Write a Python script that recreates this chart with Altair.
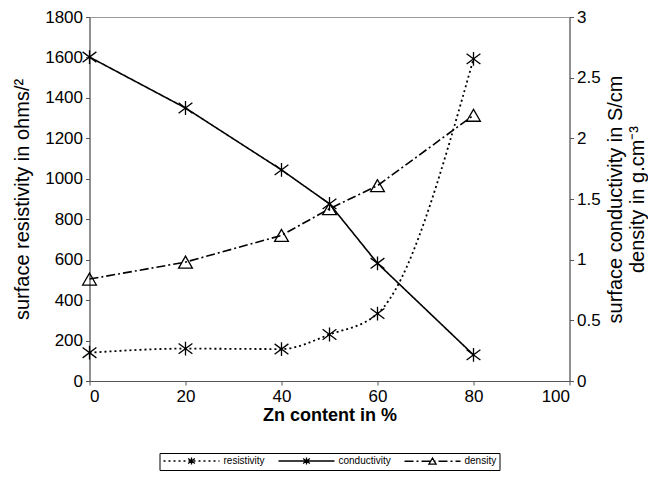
import altair as alt
import pandas as pd

zn = [0, 20, 40, 50, 60, 80]
resistivity = [140, 160, 158, 230, 333, 1593]
conductivity = [2.67, 2.25, 1.74, 1.46, 0.97, 0.215]
density = [0.84, 0.98, 1.2, 1.42, 1.61, 2.19]

series_names = ["resistivity", "conductivity", "density"]
marker_names = ["m-" + s for s in series_names]

rows = []
for name, mname, vals in zip(series_names, marker_names, [resistivity, conductivity, density]):
    for x, v in zip(zn, vals):
        rows.append({"zn": x, "value": v, "series": name, "marker": mname})
df = pd.DataFrame(rows)

FONT = "Liberation Sans"
ASTERISK = "M-1,-0.75L1,0.75M-1,0.75L1,-0.75M0,-1L0,1"
TRIANGLE = "M0,-0.95L1.05,0.85L-1.05,0.85Z"

# ---- legend symbols: line pattern + marker drawn as one path (1 unit = 4 px) ----
HALF = 7.0


def dashed_path(pattern):
    parts, x, i = [], -HALF, 0
    while x < HALF:
        seg = pattern[i % len(pattern)]
        end = min(x + seg, HALF)
        if i % 2 == 0:
            parts.append(f"M{x:.3f},0L{end:.3f},0")
        x = end
        i += 1
    return "".join(parts)


def marker_path(p, s=0.85):
    out = []
    for tok in p.replace("M", " M ").replace("L", " L ").replace("Z", " Z ").split():
        if "," in tok:
            a, b = tok.split(",")
            out.append(f"{float(a) * s:.3f},{float(b) * s:.3f}")
        else:
            out.append(tok)
    return "".join(out)


leg_paths = [
    dashed_path([0.5, 0.75]) + marker_path(ASTERISK),
    f"M{-HALF},0L{HALF},0" + marker_path(ASTERISK),
    dashed_path([2.25, 0.75, 0.5, 0.75]) + marker_path(TRIANGLE),
]

dash_scale = alt.Scale(domain=series_names, range=[[2, 3], [1, 0], [9, 3, 2, 3]])
legend_shape_scale = alt.Scale(domain=marker_names, range=leg_paths)

LX, LY = 70, 436
MSIZE = 190
LEG_SIZE = 64

legend = alt.Legend(title=None, orient="none", legendX=LX, legendY=LY, direction="horizontal",
                    symbolSize=LEG_SIZE, symbolOffset=24, labelOffset=27,
                    labelFontSize=10, labelFont=FONT, labelColor="black",
                    labelExpr="replace(datum.label, 'm-', '')",
                    padding=3, columnPadding=10, strokeColor="black",
                    symbolStrokeColor="black", symbolFillColor="transparent",
                    symbolStrokeWidth=1.3, symbolOpacity=1)

x_enc = alt.X("zn:Q", title="Zn content in %",
              scale=alt.Scale(domain=[0, 100], nice=False),
              axis=alt.Axis(values=[0, 20, 40, 60, 80, 100], titleFontWeight="bold",
                            titleFontSize=18, titlePadding=2))

y_left = alt.Y("value:Q", title="surface resistivity in ohms/²",
               scale=alt.Scale(domain=[0, 1800], nice=False),
               axis=alt.Axis(values=list(range(0, 1801, 200)), titlePadding=12,
                             labelExpr="datum.value + ''"))

y_right = alt.Y("value:Q", title=["surface conductivity in S/cm", "density in g.cm⁻³"],
                scale=alt.Scale(domain=[0, 3], nice=False),
                axis=alt.Axis(orient="right", values=[0, 0.5, 1, 1.5, 2, 2.5, 3],
                              labelExpr="datum.value + ''", titleAngle=270,
                              titleBaseline="bottom", titlePadding=3))

base = alt.Chart(df)
res_data = base.transform_filter(alt.datum.series == "resistivity")
cond_data = base.transform_filter(alt.datum.series == "conductivity")
dens_data = base.transform_filter(alt.datum.series == "density")
right_data = base.transform_filter(alt.datum.series != "resistivity")

left_line = res_data.mark_line(color="black", strokeWidth=1.8, interpolate="monotone").encode(
    x=x_enc, y=y_left,
    strokeDash=alt.StrokeDash("series:N", scale=dash_scale, legend=None))
left_pts = res_data.mark_point(color="black", strokeWidth=1.3, filled=False, opacity=1,
                               size=MSIZE, shape=ASTERISK).encode(x="zn:Q", y="value:Q")
left = alt.layer(left_line, left_pts)

right_line = right_data.mark_line(color="black", strokeWidth=1.6).encode(
    x=x_enc, y=y_right,
    strokeDash=alt.StrokeDash("series:N", scale=dash_scale, legend=None))
cond_pts = cond_data.mark_point(color="black", strokeWidth=1.3, filled=False, opacity=1,
                                size=MSIZE, shape=ASTERISK).encode(x="zn:Q", y="value:Q")
dens_pts = dens_data.mark_point(color="black", strokeWidth=1.3, filled=False, opacity=1,
                                size=MSIZE, shape="triangle-up").encode(x="zn:Q", y="value:Q")
# legend-only layer: its points sit below the plot area and are clipped away
legend_layer = right_data.transform_calculate(hidden="-1").mark_point(
    color="black", filled=False, clip=True, size=LEG_SIZE, strokeWidth=1.3
).encode(
    x="zn:Q", y="hidden:Q",
    shape=alt.Shape("marker:N", scale=legend_shape_scale, legend=legend))
right = alt.layer(right_line, cond_pts, dens_pts, legend_layer)

chart = alt.layer(left, right).resolve_scale(y="independent").properties(
    width=480, height=364, background="white",
    padding={"left": 4.5, "top": 0, "right": 0, "bottom": 0}
).configure_view(stroke="#999999", strokeWidth=1).configure_axis(
    labelFont=FONT, titleFont=FONT, labelFontSize=17, titleFontSize=20,
    titleFontWeight="normal", labelColor="black", titleColor="black",
    domainColor="#555555", tickColor="#555555", grid=False, tickSize=4,
    labelPadding=3
)

chart.save("out.html", embed_options={"renderer": "svg", "actions": False})
